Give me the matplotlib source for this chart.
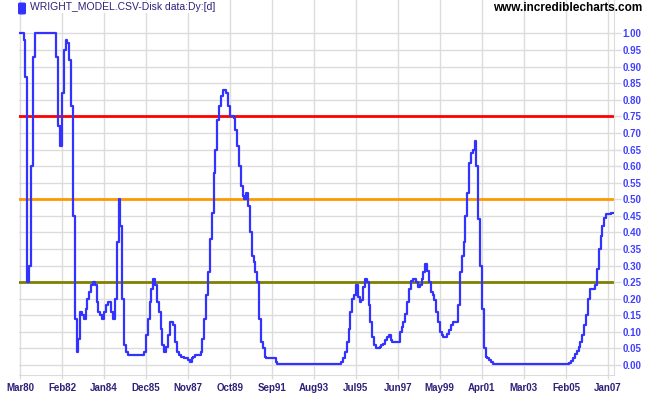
import pandas as pd
import matplotlib
matplotlib.use('Agg')
import matplotlib.pyplot as plt
import matplotlib.dates as mdates
from matplotlib.patches import FancyBboxPatch

plt.rcParams['font.family'] = ['Liberation Sans', 'DejaVu Sans']

# monthly readings, starting Mar 1980 (one row per 12 months)
values = [
    1.0, 1.0, 0.98, 0.87, 0.25, 0.30, 0.6, 0.93, 1.0, 1.0, 1.0, 1.0,
    1.0, 1.0, 1.0, 1.0, 1.0, 1.0, 1.0, 1.0, 0.93, 0.72, 0.66, 0.82,
    0.95, 0.98, 0.97, 0.92, 0.78, 0.45, 0.14, 0.04, 0.08, 0.16, 0.15, 0.14,
    0.17, 0.2, 0.22, 0.24, 0.25, 0.24, 0.19, 0.16, 0.15, 0.14, 0.16, 0.18,
    0.19, 0.19, 0.16, 0.14, 0.2, 0.37, 0.5, 0.42, 0.2, 0.06, 0.04, 0.03,
    0.03, 0.03, 0.03, 0.03, 0.03, 0.03, 0.03, 0.03, 0.04, 0.09, 0.14, 0.19,
    0.23, 0.26, 0.24, 0.19, 0.16, 0.11, 0.06, 0.04, 0.055, 0.09, 0.13, 0.13,
    0.12, 0.07, 0.04, 0.03, 0.025, 0.025, 0.02, 0.02, 0.015, 0.01, 0.02, 0.025,
    0.03, 0.03, 0.03, 0.04, 0.08, 0.14, 0.21, 0.28, 0.38, 0.46, 0.58, 0.65,
    0.74, 0.78, 0.81, 0.83, 0.83, 0.82, 0.78, 0.75, 0.75, 0.745, 0.71, 0.66,
    0.6, 0.54, 0.51, 0.5, 0.52, 0.48, 0.4, 0.33, 0.31, 0.28, 0.25, 0.14,
    0.07, 0.05, 0.025, 0.022, 0.022, 0.022, 0.022, 0.02, 0.01, 0.003, 0.003, 0.003,
    0.003, 0.003, 0.003, 0.003, 0.003, 0.003, 0.003, 0.003, 0.003, 0.003, 0.003, 0.003,
    0.003, 0.003, 0.003, 0.003, 0.003, 0.003, 0.003, 0.003, 0.003, 0.003, 0.003, 0.003,
    0.003, 0.003, 0.003, 0.003, 0.003, 0.003, 0.003, 0.003, 0.01, 0.02, 0.04, 0.07,
    0.11, 0.16, 0.2, 0.21, 0.24, 0.205, 0.19, 0.195, 0.235, 0.26, 0.25, 0.18,
    0.13, 0.085, 0.06, 0.05, 0.05, 0.055, 0.06, 0.065, 0.075, 0.085, 0.09, 0.075,
    0.07, 0.07, 0.07, 0.07, 0.1, 0.115, 0.13, 0.155, 0.19, 0.23, 0.255, 0.26,
    0.26, 0.25, 0.235, 0.24, 0.26, 0.28, 0.305, 0.285, 0.25, 0.22, 0.21, 0.195,
    0.16, 0.13, 0.1, 0.09, 0.085, 0.085, 0.095, 0.105, 0.12, 0.13, 0.13, 0.13,
    0.18, 0.28, 0.33, 0.37, 0.45, 0.52, 0.61, 0.64, 0.65, 0.675, 0.6, 0.44,
    0.3, 0.17, 0.05, 0.025, 0.02, 0.015, 0.01, 0.002, 0.002, 0.002, 0.002, 0.002,
    0.002, 0.002, 0.002, 0.002, 0.002, 0.002, 0.002, 0.002, 0.002, 0.002, 0.002, 0.002,
    0.002, 0.002, 0.002, 0.002, 0.002, 0.002, 0.002, 0.002, 0.002, 0.002, 0.002, 0.002,
    0.002, 0.002, 0.002, 0.002, 0.002, 0.002, 0.002, 0.002, 0.002, 0.002, 0.002, 0.002,
    0.003, 0.007, 0.012, 0.02, 0.032, 0.042, 0.055, 0.07, 0.09, 0.12, 0.15, 0.2,
    0.23, 0.23, 0.23, 0.24, 0.29, 0.35, 0.39, 0.42, 0.445, 0.455, 0.455, 0.455,
    0.46, 0.46,
]
dates = pd.date_range('1980-03-01', periods=len(values), freq='MS')

x_labels = ['Mar80', 'Feb82', 'Jan84', 'Dec85', 'Nov87', 'Oct89', 'Sep91', 'Aug93',
            'Jul95', 'Jun97', 'May99', 'Apr01', 'Mar03', 'Feb05', 'Jan07']
levels = [0.75, 0.5, 0.25]
level_colors = ['#ff0000', '#ff9900', '#808000']
y_ticks = [i / 20 for i in range(21)]

fig = plt.figure(figsize=(6.51, 3.95), dpi=100)
ax = fig.add_axes([19 / 651, 20 / 395, 595 / 651, 375 / 395])

grid_c = '#dcdcdc'
ax.grid(True, color=grid_c, linewidth=1)
ax.set_axisbelow(True)

for lv, c in zip(levels, level_colors):
    ax.axhline(lv, color=c, linewidth=2, zorder=2)

ax.plot(dates, values, color='#3333ff', linewidth=1.6, drawstyle='steps-post', zorder=3)

ax.set_xlim(dates[0] - pd.Timedelta(days=15), dates[-1] + pd.Timedelta(days=12))
ax.set_ylim(-0.03, 1.101)

tick_dates = [pd.to_datetime(s, format='%b%y') for s in x_labels]
ax.set_xticks(mdates.date2num(tick_dates))
ax.set_xticklabels(x_labels)
ax.set_yticks(y_ticks)
ax.set_yticklabels(['%.2f' % v for v in y_ticks])

ax.yaxis.tick_right()
ax.tick_params(axis='y', length=5, width=1, color=grid_c, pad=1,
               labelsize=7, labelcolor='#4040ff')
ax.tick_params(axis='x', length=3, width=1, color=grid_c, pad=3,
               labelsize=7, labelcolor='#30207a')
for lab in ax.get_xticklabels() + ax.get_yticklabels():
    lab.set_fontweight('bold')

for side in ['left', 'top']:
    ax.spines[side].set_visible(False)
for side in ['right', 'bottom']:
    ax.spines[side].set_color(grid_c)

# series label and site name at the top
fig.patches.append(FancyBboxPatch((20 / 651, 382 / 395), 4 / 651, 9 / 395,
                                  boxstyle='round,pad=0.002', transform=fig.transFigure,
                                  facecolor='#3333ff', edgecolor='#3333ff'))
fig.text(30 / 651, 388 / 395, 'WRIGHT_MODEL.CSV-Disk data:Dy:[d]', fontsize=7.5,
         color='#30207a', va='center', ha='left',
         bbox=dict(facecolor='white', edgecolor='none', pad=0.5))
fig.text(642 / 651, 387 / 395, 'www.incrediblecharts.com', fontsize=8.5,
         fontweight='bold', color='black', va='center', ha='right')

fig.savefig('out.png', dpi=100)
